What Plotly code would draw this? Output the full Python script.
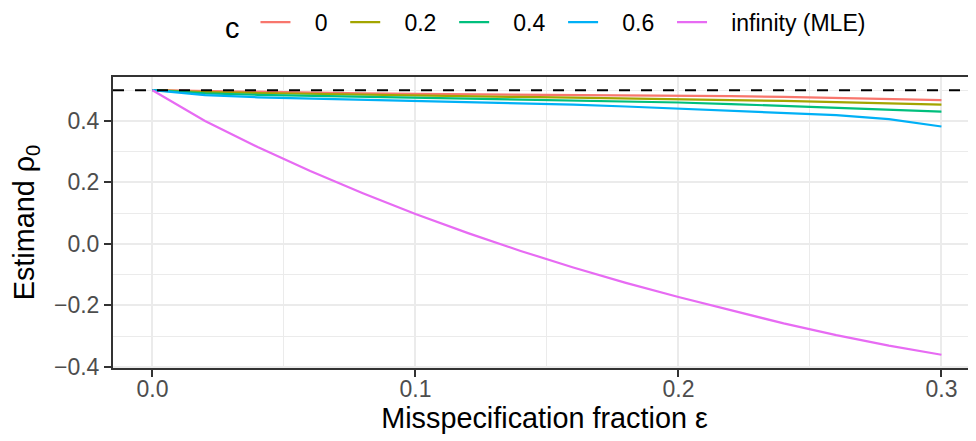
import plotly.graph_objects as go

# ---- data ----
eps = [0.00, 0.02, 0.04, 0.06, 0.08, 0.10, 0.12, 0.14, 0.16, 0.18,
       0.20, 0.22, 0.24, 0.26, 0.28, 0.30]

rho_c0 = [0.500, 0.497, 0.495, 0.493, 0.490, 0.488, 0.487, 0.486, 0.485, 0.484,
          0.483, 0.481, 0.478, 0.475, 0.472, 0.468]
rho_c02 = [0.500, 0.494, 0.491, 0.488, 0.485, 0.482, 0.480, 0.478, 0.476, 0.474,
           0.471, 0.468, 0.465, 0.461, 0.457, 0.453]
rho_c04 = [0.500, 0.490, 0.485, 0.482, 0.478, 0.475, 0.473, 0.471, 0.468, 0.464,
           0.460, 0.455, 0.449, 0.443, 0.437, 0.430]
rho_c06 = [0.500, 0.484, 0.477, 0.473, 0.469, 0.465, 0.462, 0.458, 0.453, 0.447,
           0.440, 0.434, 0.427, 0.419, 0.406, 0.382]
rho_mle = [0.500, 0.400, 0.315, 0.237, 0.165, 0.097, 0.035, -0.023, -0.077, -0.127,
           -0.173, -0.217, -0.259, -0.297, -0.331, -0.361]

series_names = ["0", "0.2", "0.4", "0.6", "infinity (MLE)"]
series_values = [rho_c0, rho_c02, rho_c04, rho_c06, rho_mle]
series_colors = ["#F8766D", "#A3A500", "#00BF7D", "#00B0F6", "#E76BF3"]

true_rho = 0.5

x_ticks = [0.0, 0.1, 0.2, 0.3]
x_tick_labels = ["0.0", "0.1", "0.2", "0.3"]
y_ticks = [-0.4, -0.2, 0.0, 0.2, 0.4]
y_tick_labels = ["\u22120.4", "\u22120.2", "0.0", "0.2", "0.4"]

FONT = "Liberation Sans, Arial, Helvetica, sans-serif"
NB = "\u00a0"
SMALL = 23
BIG = 28.8

fig = go.Figure()
for name, vals, col in zip(series_names, series_values, series_colors):
    fig.add_trace(go.Scatter(
        x=eps, y=vals, mode="lines", name=NB * 3 + name + NB * 2,
        line=dict(color=col, width=2.2),
    ))

fig.add_shape(type="line", xref="paper", x0=0, x1=1, yref="y", y0=true_rho, y1=true_rho,
              line=dict(color="black", width=2, dash="11px,11px"), layer="above")

# the page body has an 8px margin, so the figure is 8px smaller than the window
fig.update_layout(
    width=968, height=433,
    margin=dict(l=105, r=0, t=69, b=73, autoexpand=False),
    paper_bgcolor="white", plot_bgcolor="white",
    font=dict(family=FONT, color="black"),
    showlegend=True,
    legend=dict(
        orientation="h", x=0.5105, xanchor="center", y=1.262, yanchor="top",
        title=dict(text="c" + NB, side="left", font=dict(size=BIG, color="black")),
        font=dict(size=SMALL, color="black"),
    ),
    xaxis=dict(
        range=[-0.015, 0.31314],
        tickmode="array", tickvals=x_ticks, ticktext=x_tick_labels,
        tickfont=dict(size=SMALL, color="#4D4D4D"),
        ticks="outside", ticklen=7, tickwidth=2, tickcolor="#333333",
        ticklabelstandoff=-8,
        showgrid=True, gridcolor="#EBEBEB", gridwidth=2,
        minor=dict(dtick=0.05, tick0=0, showgrid=True, gridcolor="#EBEBEB", gridwidth=1),
        showline=True, linecolor="#333333", linewidth=2, mirror=True,
        zeroline=False,
        title=dict(text="Misspecification fraction \u03b5", font=dict(size=BIG, color="black"), standoff=0),
    ),
    yaxis=dict(
        range=[-0.404, 0.543],
        tickmode="array", tickvals=y_ticks, ticktext=y_tick_labels,
        tickfont=dict(size=SMALL, color="#4D4D4D"),
        ticks="outside", ticklen=7, tickwidth=2, tickcolor="#333333",
        showgrid=True, gridcolor="#EBEBEB", gridwidth=2,
        minor=dict(dtick=0.2, tick0=0.1, showgrid=True, gridcolor="#EBEBEB", gridwidth=1),
        showline=True, linecolor="#333333", linewidth=2, mirror=False,
        zeroline=False,
        title=dict(text="Estimand \u03c1<sub>0</sub>", font=dict(size=BIG, color="black"), standoff=21),
    ),
)

fig.write_html("out.html")
